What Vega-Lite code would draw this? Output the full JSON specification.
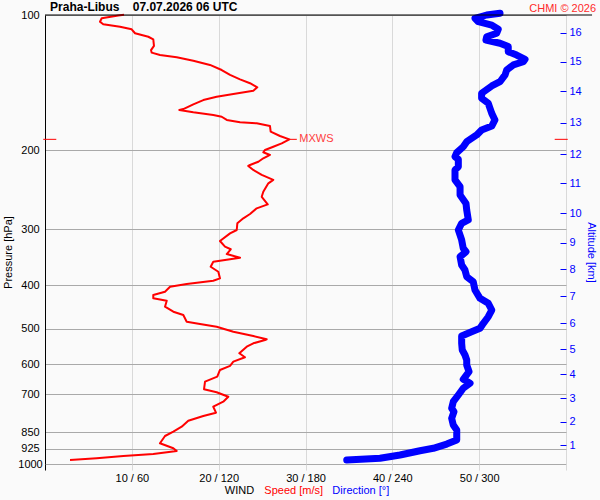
{
  "$schema": "https://vega.github.io/schema/vega-lite/v6.json",
  "width": 521,
  "height": 449,
  "autosize": "none",
  "padding": {"left": 45, "top": 15, "right": 34, "bottom": 36},
  "background": "#fafafa",
  "config": {
    "font": "Liberation Sans",
    "view": {"stroke": null},
    "axis": {
      "labelFont": "Liberation Sans",
      "titleFont": "Liberation Sans",
      "labelFontSize": 11,
      "titleFontSize": 11,
      "titleFontWeight": "normal",
      "labelColor": "black",
      "titleColor": "black",
      "labelOverlap": false
    }
  },
  "datasets": {
    "speed": [
      {"p": 99.9, "s": 9.1}, {"p": 100.3, "s": 8.44}, {"p": 101.7, "s": 6.53}, {"p": 103.5, "s": 6.33},
      {"p": 104.9, "s": 6.71}, {"p": 106.2, "s": 8.64}, {"p": 107.6, "s": 9.98}, {"p": 109.8, "s": 10.37},
      {"p": 111.8, "s": 11.9}, {"p": 113.3, "s": 12.47}, {"p": 117.2, "s": 12.55}, {"p": 119.7, "s": 12.21},
      {"p": 121.3, "s": 12.29}, {"p": 122.8, "s": 13.24}, {"p": 124.2, "s": 15.17}, {"p": 126.4, "s": 17.08},
      {"p": 129.2, "s": 19.0}, {"p": 132.6, "s": 20.35}, {"p": 136.0, "s": 21.31}, {"p": 139.1, "s": 22.46},
      {"p": 141.9, "s": 23.61}, {"p": 144.9, "s": 24.45}, {"p": 147.4, "s": 23.99}, {"p": 149.9, "s": 21.69},
      {"p": 152.1, "s": 19.77}, {"p": 154.7, "s": 18.23}, {"p": 158.1, "s": 17.08}, {"p": 162.0, "s": 15.93},
      {"p": 162.8, "s": 15.47}, {"p": 164.7, "s": 17.08}, {"p": 167.0, "s": 19.38}, {"p": 168.5, "s": 20.35},
      {"p": 171.3, "s": 20.93}, {"p": 173.4, "s": 22.46}, {"p": 174.3, "s": 24.38}, {"p": 176.7, "s": 25.91},
      {"p": 181.9, "s": 25.99}, {"p": 186.0, "s": 27.06}, {"p": 189.2, "s": 28.14}, {"p": 193.1, "s": 27.26},
      {"p": 196.5, "s": 26.29}, {"p": 199.8, "s": 25.34}, {"p": 202.2, "s": 25.14}, {"p": 205.0, "s": 25.91},
      {"p": 208.5, "s": 25.14}, {"p": 212.2, "s": 24.57}, {"p": 215.8, "s": 23.61}, {"p": 216.9, "s": 23.41},
      {"p": 221.4, "s": 23.99}, {"p": 227.1, "s": 24.96}, {"p": 233.0, "s": 26.29}, {"p": 237.1, "s": 25.72},
      {"p": 247.5, "s": 25.14}, {"p": 254.0, "s": 24.96}, {"p": 264.1, "s": 25.65}, {"p": 269.5, "s": 24.38},
      {"p": 277.5, "s": 23.61}, {"p": 283.7, "s": 22.84}, {"p": 291.0, "s": 22.15}, {"p": 301.2, "s": 22.08},
      {"p": 306.4, "s": 21.31}, {"p": 318.7, "s": 20.15}, {"p": 328.1, "s": 20.73}, {"p": 332.5, "s": 21.39},
      {"p": 340.7, "s": 20.93}, {"p": 347.2, "s": 22.46}, {"p": 354.4, "s": 19.38}, {"p": 363.6, "s": 19.08},
      {"p": 373.1, "s": 19.96}, {"p": 385.9, "s": 20.15}, {"p": 390.7, "s": 19.38}, {"p": 397.4, "s": 16.32},
      {"p": 402.9, "s": 14.4}, {"p": 413.4, "s": 13.82}, {"p": 420.4, "s": 12.47}, {"p": 427.6, "s": 12.47},
      {"p": 432.9, "s": 14.02}, {"p": 446.4, "s": 13.82}, {"p": 458.0, "s": 14.78}, {"p": 465.8, "s": 15.93},
      {"p": 482.1, "s": 16.32}, {"p": 487.8, "s": 17.85}, {"p": 494.6, "s": 19.77}, {"p": 507.4, "s": 21.69},
      {"p": 518.7, "s": 23.99}, {"p": 527.6, "s": 25.53}, {"p": 529.5, "s": 25.34}, {"p": 538.5, "s": 23.99},
      {"p": 547.9, "s": 23.23}, {"p": 566.8, "s": 22.38}, {"p": 578.5, "s": 23.03}, {"p": 591.7, "s": 21.69},
      {"p": 604.8, "s": 21.31}, {"p": 617.4, "s": 20.15}, {"p": 639.0, "s": 19.84}, {"p": 655.6, "s": 18.43},
      {"p": 681.7, "s": 18.31}, {"p": 692.2, "s": 19.77}, {"p": 708.2, "s": 21.11}, {"p": 726.6, "s": 20.53},
      {"p": 745.5, "s": 19.38}, {"p": 768.7, "s": 19.69}, {"p": 781.9, "s": 18.23}, {"p": 801.0, "s": 16.5},
      {"p": 826.0, "s": 15.74}, {"p": 847.4, "s": 14.78}, {"p": 866.2, "s": 13.82}, {"p": 899.3, "s": 13.24},
      {"p": 922.6, "s": 14.78}, {"p": 935.4, "s": 15.17}, {"p": 950.0, "s": 12.47}, {"p": 959.9, "s": 9.02},
      {"p": 971.2, "s": 5.95}, {"p": 979.7, "s": 2.88}
    ],
    "dir": [
      {"p": 99.1, "d": 314.4}, {"p": 100.0, "d": 305.2}, {"p": 101.7, "d": 297.1}, {"p": 103.5, "d": 299.4},
      {"p": 105.3, "d": 308.7}, {"p": 107.6, "d": 313.2}, {"p": 109.8, "d": 312.1}, {"p": 111.8, "d": 305.2},
      {"p": 113.7, "d": 304.7}, {"p": 115.6, "d": 314.4}, {"p": 117.6, "d": 320.1}, {"p": 120.7, "d": 320.1},
      {"p": 122.8, "d": 325.9}, {"p": 125.5, "d": 331.7}, {"p": 127.1, "d": 330.5}, {"p": 129.2, "d": 323.6},
      {"p": 132.6, "d": 319.0}, {"p": 136.0, "d": 317.9}, {"p": 140.8, "d": 314.4}, {"p": 143.9, "d": 308.7},
      {"p": 149.4, "d": 301.7}, {"p": 153.3, "d": 301.7}, {"p": 157.3, "d": 306.3}, {"p": 161.4, "d": 307.5},
      {"p": 165.6, "d": 308.7}, {"p": 171.3, "d": 310.9}, {"p": 176.7, "d": 308.7}, {"p": 180.3, "d": 301.7},
      {"p": 185.0, "d": 298.3}, {"p": 191.5, "d": 291.4}, {"p": 196.5, "d": 289.0}, {"p": 202.6, "d": 284.5},
      {"p": 206.8, "d": 283.3}, {"p": 209.6, "d": 285.6}, {"p": 217.7, "d": 285.6}, {"p": 221.4, "d": 283.3},
      {"p": 233.0, "d": 283.3}, {"p": 241.2, "d": 286.8}, {"p": 251.8, "d": 286.8}, {"p": 262.8, "d": 290.9},
      {"p": 271.9, "d": 291.4}, {"p": 286.1, "d": 292.5}, {"p": 291.0, "d": 287.9}, {"p": 301.2, "d": 285.6},
      {"p": 317.0, "d": 287.9}, {"p": 330.8, "d": 289.0}, {"p": 336.7, "d": 290.9}, {"p": 345.4, "d": 286.8},
      {"p": 360.4, "d": 287.9}, {"p": 369.8, "d": 290.2}, {"p": 382.7, "d": 291.4}, {"p": 392.7, "d": 295.9},
      {"p": 409.8, "d": 297.1}, {"p": 427.6, "d": 300.6}, {"p": 438.6, "d": 306.3}, {"p": 454.0, "d": 308.7},
      {"p": 469.9, "d": 306.3}, {"p": 486.0, "d": 302.9}, {"p": 498.6, "d": 300.6}, {"p": 507.4, "d": 294.8},
      {"p": 518.7, "d": 287.9}, {"p": 538.5, "d": 287.9}, {"p": 557.3, "d": 288.3}, {"p": 571.8, "d": 290.2},
      {"p": 586.7, "d": 291.4}, {"p": 601.9, "d": 291.4}, {"p": 622.9, "d": 293.0}, {"p": 647.6, "d": 289.0},
      {"p": 661.1, "d": 293.7}, {"p": 678.2, "d": 289.0}, {"p": 702.0, "d": 285.6}, {"p": 726.6, "d": 282.1},
      {"p": 751.6, "d": 281.0}, {"p": 764.8, "d": 282.6}, {"p": 791.1, "d": 281.0}, {"p": 818.7, "d": 282.1},
      {"p": 840.1, "d": 284.5}, {"p": 884.3, "d": 284.5}, {"p": 902.7, "d": 277.6}, {"p": 922.6, "d": 268.3},
      {"p": 934.1, "d": 259.1}, {"p": 955.0, "d": 245.3}, {"p": 971.2, "d": 231.5}, {"p": 979.7, "d": 208.5}
    ],
    "captions": [
      {"t": "WIND", "at": 20.7},
      {"t": "Speed [m/s]", "at": 25.26},
      {"t": "Direction [°]", "at": 33.09}
    ]
  },
  "layer": [
    {
      "data": {"name": "speed"},
      "mark": {"type": "line", "color": "red", "strokeWidth": 2, "strokeJoin": "round"},
      "encoding": {
        "x": {
          "field": "s", "type": "quantitative",
          "scale": {"domain": [0, 60], "nice": false, "zero": false},
          "axis": {
            "orient": "bottom",
            "values": [0, 10, 20, 30, 40, 50, 60],
            "labelExpr": "datum.value > 0 && datum.value < 60 ? datum.value + ' / ' + datum.value * 6 : ''",
            "title": null,
            "domain": false,
            "grid": true,
            "gridColor": "#d9d9d9",
            "tickColor": {"condition": {"test": "datum.value === 0", "value": "black"}, "value": "#d9d9d9"},
            "tickSize": 6,
            "labelPadding": 2,
            "labelFlush": false
          }
        },
        "y": {
          "field": "p", "type": "quantitative",
          "scale": {"type": "log", "domain": [100, 1000], "reverse": true, "nice": false},
          "axis": {
            "orient": "left",
            "values": [100, 200, 300, 400, 500, 600, 700, 850, 925, 1000],
            "format": "d",
            "ticks": false,
            "labelAlign": "center",
            "labelBaseline": "middle",
            "labelPadding": 15,
            "domainColor": "black",
            "grid": true,
            "gridColor": "#a9a9a9",
            "title": "Pressure [hPa]",
            "titleX": -37,
            "titleY": 237,
            "titleBaseline": "middle"
          }
        },
        "order": {"field": "p", "type": "quantitative"}
      }
    },
    {
      "data": {"name": "dir"},
      "mark": {"type": "line", "color": "blue", "strokeWidth": 7, "strokeCap": "round", "strokeJoin": "round"},
      "encoding": {
        "x": {
          "field": "d", "type": "quantitative",
          "scale": {"domain": [0, 360], "nice": false, "zero": false},
          "axis": null
        },
        "y": {
          "field": "p", "type": "quantitative",
          "scale": {"type": "log", "domain": [100, 1000], "reverse": true, "nice": false},
          "axis": {
            "orient": "right",
            "values": [109.5, 127.1, 147.9, 173.8, 204, 237.1, 276.5, 321.4, 367.9, 422.6, 485.3, 554.5, 630.6, 712.9, 805.1, 907.3],
            "labelExpr": "16 - indexof([109.5, 127.1, 147.9, 173.8, 204, 237.1, 276.5, 321.4, 367.9, 422.6, 485.3, 554.5, 630.6, 712.9, 805.1, 907.3], datum.value)",
            "grid": false,
            "domain": false,
            "offset": -6,
            "tickColor": "blue",
            "tickSize": 6,
            "labelPadding": 3,
            "labelColor": "blue",
            "labelBaseline": "middle",
            "title": "Altitude [km]",
            "titleColor": "blue",
            "titleX": 30,
            "titleY": 237,
            "titleBaseline": "middle"
          }
        },
        "order": {"field": "p", "type": "quantitative"}
      }
    },
    {
      "data": {"values": [{}]},
      "mark": {"type": "rule", "color": "black", "strokeWidth": 1},
      "encoding": {
        "y": {"datum": 100, "type": "quantitative", "scale": {"type": "log", "domain": [100, 1000], "reverse": true, "nice": false}, "axis": null},
        "x": {"datum": 0, "type": "quantitative", "scale": {"domain": [0, 60], "nice": false, "zero": false}, "axis": null},
        "x2": {"datum": 63}
      }
    },
    {
      "data": {"name": "speed"},
      "transform": [
        {"joinaggregate": [{"op": "max", "field": "s", "as": "smax"}]},
        {"filter": "datum.s === datum.smax"}
      ],
      "layer": [
        {
          "mark": {"type": "rule", "color": "red", "strokeWidth": 1},
          "encoding": {
            "y": {"field": "p", "type": "quantitative", "scale": {"type": "log", "domain": [100, 1000], "reverse": true, "nice": false}, "axis": null},
            "x": {"datum": -0.2, "type": "quantitative", "scale": {"domain": [0, 60], "nice": false, "zero": false}, "axis": null},
            "x2": {"datum": 1.3}
          }
        },
        {
          "mark": {"type": "rule", "color": "red", "strokeWidth": 1},
          "encoding": {
            "y": {"field": "p", "type": "quantitative", "scale": {"type": "log", "domain": [100, 1000], "reverse": true, "nice": false}, "axis": null},
            "x": {"datum": 58.7, "type": "quantitative", "scale": {"domain": [0, 60], "nice": false, "zero": false}, "axis": null},
            "x2": {"datum": 60.2}
          }
        },
        {
          "mark": {"type": "rule", "color": "red", "strokeWidth": 1},
          "encoding": {
            "y": {"field": "p", "type": "quantitative", "scale": {"type": "log", "domain": [100, 1000], "reverse": true, "nice": false}, "axis": null},
            "x": {"field": "s", "type": "quantitative", "scale": {"domain": [0, 60], "nice": false, "zero": false}, "axis": null},
            "x2": {"datum": 29.0}
          }
        },
        {
          "mark": {"type": "text", "text": "MXWS", "color": "#ff4040", "align": "left", "baseline": "middle", "dx": 10, "fontSize": 11, "font": "Liberation Sans"},
          "encoding": {
            "y": {"field": "p", "type": "quantitative", "scale": {"type": "log", "domain": [100, 1000], "reverse": true, "nice": false}, "axis": null},
            "x": {"field": "s", "type": "quantitative", "scale": {"domain": [0, 60], "nice": false, "zero": false}, "axis": null}
          }
        }
      ]
    },
    {
      "data": {"values": [{}]},
      "mark": {"type": "text", "text": "Praha-Libus\u00a0\u00a0\u00a0 07.07.2026 06 UTC", "color": "black", "align": "left", "baseline": "middle", "dy": -8, "fontSize": 12, "fontWeight": "bold", "font": "Liberation Sans"},
      "encoding": {
        "y": {"datum": 100, "type": "quantitative", "scale": {"type": "log", "domain": [100, 1000], "reverse": true, "nice": false}, "axis": null},
        "x": {"datum": 0.58, "type": "quantitative", "scale": {"domain": [0, 60], "nice": false, "zero": false}, "axis": null}
      }
    },
    {
      "data": {"values": [{}]},
      "mark": {"type": "text", "text": "CHMI © 2026", "color": "#ff2a2a", "align": "right", "baseline": "middle", "dy": -6, "fontSize": 11, "font": "Liberation Sans"},
      "encoding": {
        "y": {"datum": 100, "type": "quantitative", "scale": {"type": "log", "domain": [100, 1000], "reverse": true, "nice": false}, "axis": null},
        "x": {"datum": 63.46, "type": "quantitative", "scale": {"domain": [0, 60], "nice": false, "zero": false}, "axis": null}
      }
    },
    {
      "data": {"name": "captions"},
      "mark": {"type": "text", "align": "left", "baseline": "middle", "dy": 27, "fontSize": 11, "font": "Liberation Sans"},
      "encoding": {
        "y": {"datum": 1000, "type": "quantitative", "scale": {"type": "log", "domain": [100, 1000], "reverse": true, "nice": false}, "axis": null},
        "x": {"field": "at", "type": "quantitative", "scale": {"domain": [0, 60], "nice": false, "zero": false}, "axis": null},
        "text": {"field": "t"},
        "color": {
          "field": "t", "type": "nominal",
          "scale": {"domain": ["WIND", "Speed [m/s]", "Direction [°]"], "range": ["black", "red", "blue"]},
          "legend": null
        }
      }
    }
  ],
  "resolve": {
    "scale": {"x": "independent"},
    "axis": {"x": "independent", "y": "independent"}
  }
}
